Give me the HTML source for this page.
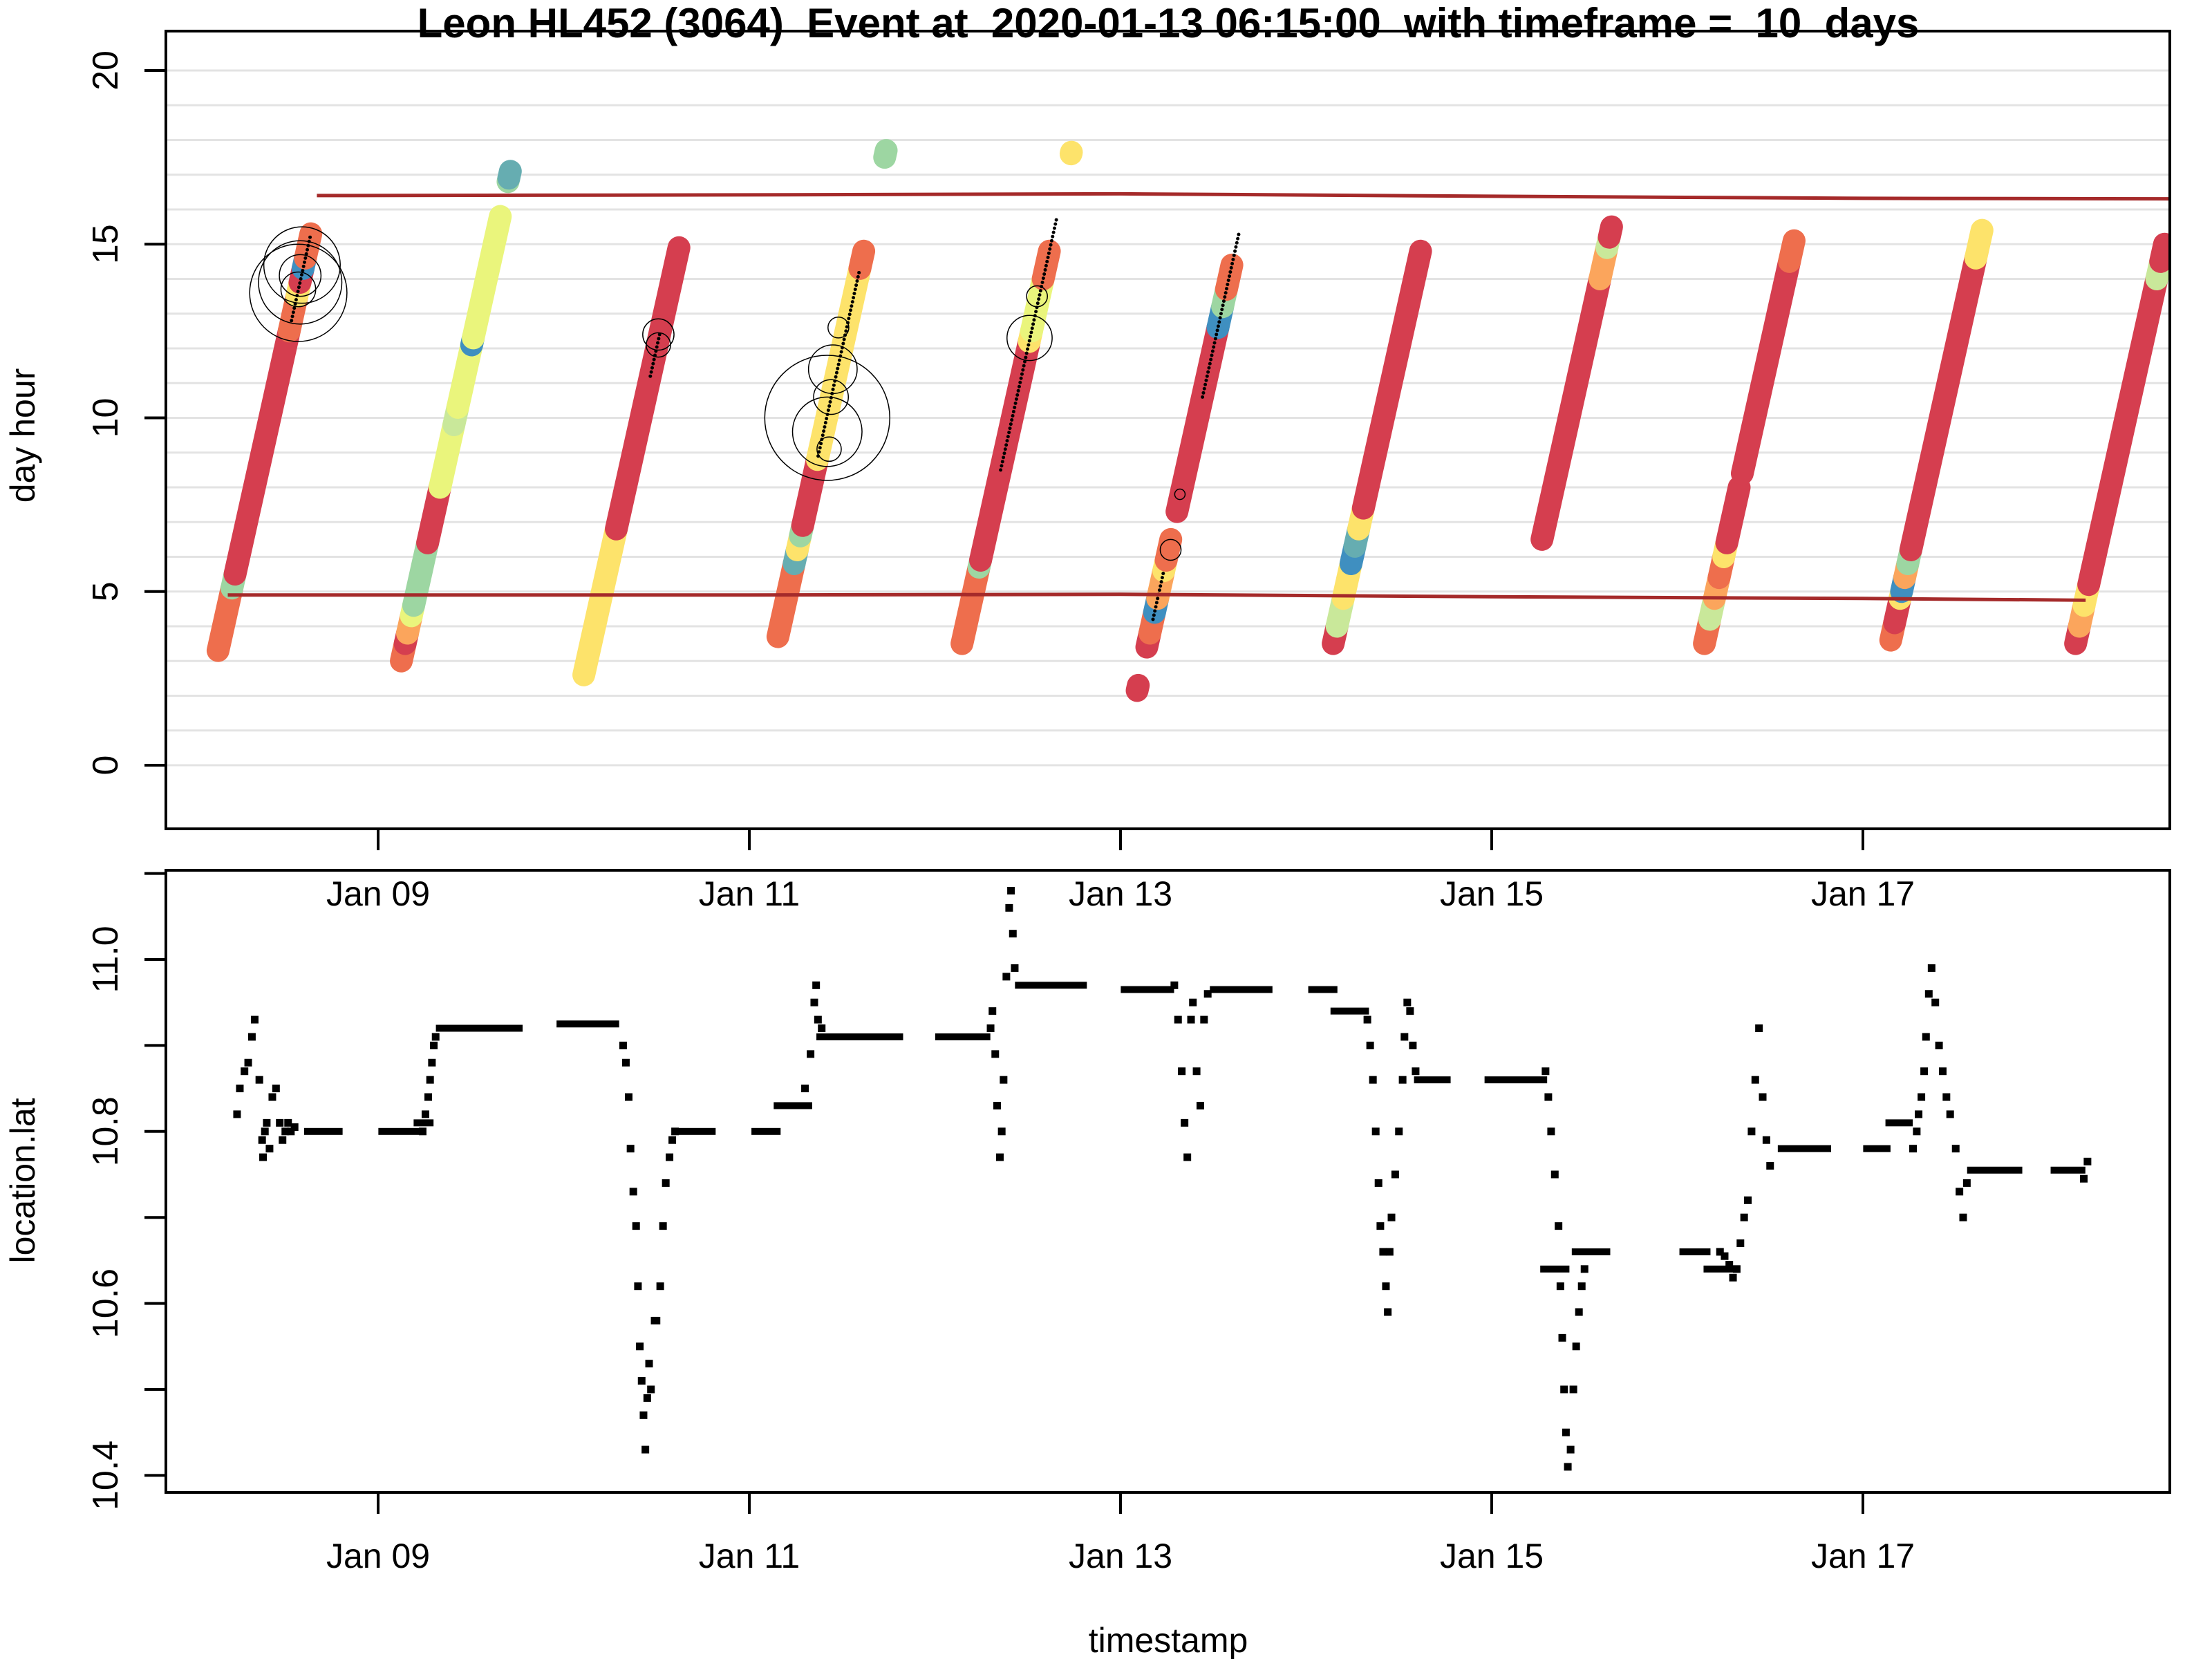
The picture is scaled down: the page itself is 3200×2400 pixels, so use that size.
<!DOCTYPE html>
<html><head><meta charset="utf-8"><style>
html,body{margin:0;padding:0;background:#fff;}
svg{display:block;}
text{font-family:"Liberation Sans",sans-serif;fill:#000;}
</style></head><body>
<svg id="chart" width="3200" height="2400" viewBox="0 0 3200 2400" xmlns="http://www.w3.org/2000/svg">
<rect width="3200" height="2400" fill="#fff"/>
<text x="1690" y="54" text-anchor="middle" font-size="60" font-weight="bold" style="white-space:pre">Leon HL452 (3064)  Event at  2020-01-13 06:15:00  with timeframe =  10  days</text>
<g id="topPanel"></g>
<g id="botPanel"></g>
<text transform="translate(50,630) rotate(-90)" text-anchor="middle" font-size="50">day hour</text>
<text transform="translate(50,1708) rotate(-90)" text-anchor="middle" font-size="50">location.lat</text>
<text x="1690" y="2390" text-anchor="middle" font-size="50">timestamp</text>
</svg>
<script>
// ---- data (t = days since Jan 09 00:00) ----
const xTickDays = [0, 2, 4, 6, 8];
const xTickLabels = ["Jan 09", "Jan 11", "Jan 13", "Jan 15", "Jan 17"];
const hourTicks = [0, 5, 10, 15, 20];
const latTicks = [10.4, 10.5, 10.6, 10.7, 10.8, 10.9, 11.0, 11.1];
const latLabels = ["10.4", "", "10.6", "", "10.8", "", "11.0", ""];
// day bars: [dayOffset, startHour, endHour, colorKey]
const barSegments = [
 [-1,3.3,5.1,"o"],[-1,5.1,5.5,"g"],[-1,5.5,12.5,"r"],[-1,12.5,13.5,"o"],[-1,13.5,13.9,"y"],[-1,13.9,14.3,"r"],[-1,14.3,14.6,"b"],[-1,14.6,15.3,"o"],
 [0,3.0,3.5,"o"],[0,3.5,3.8,"r"],[0,3.8,4.3,"lo"],[0,4.3,4.6,"l"],[0,4.6,6.4,"g"],[0,6.4,8.0,"r"],[0,8.0,9.8,"l"],[0,9.8,10.3,"lg"],[0,10.3,12.1,"l"],[0,12.1,12.3,"b"],[0,12.3,15.8,"l"],[0,16.8,16.9,"g"],[0,16.9,17.1,"t"],
 [1,2.6,6.8,"y"],[1,6.8,14.9,"r"],
 [2,3.7,5.8,"o"],[2,5.8,6.2,"t"],[2,6.2,6.6,"y"],[2,6.6,6.9,"g"],[2,6.9,8.8,"r"],[2,8.8,14.3,"y"],[2,14.3,14.8,"o"],[2,17.5,17.7,"g"],
 [3,3.5,5.7,"o"],[3,5.7,5.9,"g"],[3,5.9,12.2,"r"],[3,12.2,12.5,"y"],[3,12.5,14.0,"l"],[3,14.0,14.8,"o"],[3,17.6,17.65,"y"],
 [4,2.15,2.3,"r"],[4,3.4,3.8,"r"],[4,3.8,4.4,"o"],[4,4.4,4.8,"b"],[4,4.8,5.6,"lo"],[4,5.6,5.9,"y"],[4,5.9,6.5,"o"],[4,7.3,12.6,"r"],[4,12.6,13.2,"b"],[4,13.2,13.7,"g"],[4,13.7,14.4,"o"],
 [5,3.5,4.0,"r"],[5,4.0,4.8,"lg"],[5,4.8,5.8,"y"],[5,5.8,6.3,"b"],[5,6.3,6.8,"t"],[5,6.8,7.4,"y"],[5,7.4,14.8,"r"],
 [6,6.5,14.0,"r"],[6,14.0,14.9,"lo"],[6,14.9,15.2,"lg"],[6,15.2,15.5,"r"],
 [7,3.5,4.2,"o"],[7,4.2,4.8,"lg"],[7,4.8,5.4,"lo"],[7,5.4,6.0,"o"],[7,6.0,6.4,"y"],[7,6.4,8.0,"r"],[7,8.4,14.5,"r"],[7,14.5,15.1,"o"],
 [8,3.6,4.1,"o"],[8,4.1,4.8,"r"],[8,4.8,5.0,"y"],[8,5.0,5.4,"b"],[8,5.4,5.8,"lo"],[8,5.8,6.2,"g"],[8,6.2,14.6,"r"],[8,14.6,15.4,"y"],
 [9,3.5,4.0,"r"],[9,4.0,4.6,"lo"],[9,4.6,5.2,"y"],[9,5.2,14.0,"r"],[9,14.0,14.5,"lg"],[9,14.5,15.0,"r"]
];
// event circles: [t, hour, radius(hours)]
const eventCircles = [
 [-0.43,13.6,1.4],[-0.42,13.9,1.2],[-0.41,14.4,1.1],[-0.42,14.1,0.6],[-0.43,13.7,0.5],
 [1.51,12.4,0.45],[1.51,12.1,0.35],
 [2.42,10.0,1.8],[2.42,9.6,1.0],[2.45,11.4,0.7],[2.44,10.6,0.5],[2.48,12.6,0.3],[2.43,9.1,0.35],
 [3.51,12.3,0.65],[3.55,13.5,0.3],
 [4.27,6.2,0.3],[4.32,7.8,0.15]
];
const upperLineT = [-0.33, 2, 4, 6, 8, 10.2];
const upperLineH = [16.4, 16.42, 16.45, 16.38, 16.32, 16.3];
const lowerLineT = [-0.81, 2, 4, 6, 8, 9.2];
const lowerLineH = [4.9, 4.9, 4.92, 4.85, 4.8, 4.75];
// lat flat runs
const flatT0 = [-0.38, 0.02, 0.21, 0.33, 0.98, 1.63, 2.03, 2.15, 2.38, 3.02, 3.45, 4.02, 4.5, 5.03, 5.15, 5.6, 5.98, 6.28, 6.45, 7.03, 7.16, 7.56, 8.02, 8.14, 8.58, 9.03];
const flatT1 = [-0.21, 0.21, 0.28, 0.76, 1.28, 1.80, 2.15, 2.32, 2.81, 3.28, 3.80, 4.27, 4.80, 5.15, 5.32, 5.76, 6.28, 6.40, 6.62, 7.16, 7.30, 7.81, 8.13, 8.25, 8.84, 9.18];
const flatLat= [10.80, 10.80, 10.81, 10.92, 10.925, 10.80, 10.80, 10.83, 10.91, 10.91, 10.97, 10.965, 10.965, 10.965, 10.94, 10.86, 10.86, 10.64, 10.66, 10.66, 10.64, 10.78, 10.78, 10.81, 10.755, 10.755];
// lat individual points
const ptT = [-0.76,-0.745,-0.72,-0.70,-0.68,-0.665,-0.64,-0.625,-0.62,-0.61,-0.60,-0.585,-0.57,-0.55,-0.53,-0.515,-0.50,-0.485,-0.47,-0.45,
 0.24,0.255,0.27,0.28,0.29,0.30,0.31,
 1.32,1.335,1.35,1.36,1.375,1.39,1.40,1.41,1.42,1.43,1.44,1.45,1.46,1.47,1.49,1.50,1.52,1.535,1.55,1.57,1.585,1.60,
 2.30,2.33,2.35,2.36,2.37,2.39,
 3.30,3.31,3.325,3.335,3.35,3.36,3.37,3.385,3.40,3.41,3.42,3.43,
 4.29,4.31,4.33,4.345,4.36,4.38,4.39,4.41,4.43,4.45,4.47,
 5.33,5.345,5.36,5.375,5.39,5.40,5.415,5.43,5.44,5.45,5.46,5.48,5.50,5.52,5.53,5.545,5.56,5.575,5.59,
 6.29,6.305,6.32,6.34,6.36,6.37,6.38,6.39,6.40,6.41,6.425,6.44,6.455,6.47,6.485,6.50,
 7.23,7.255,7.28,7.30,7.32,7.34,7.36,7.38,7.40,7.42,7.44,7.46,7.48,7.50,
 8.27,8.29,8.30,8.315,8.33,8.34,8.355,8.37,8.39,8.41,8.43,8.45,8.47,8.50,8.52,8.54,8.56,
 9.19,9.21];
const ptLat = [10.82,10.85,10.87,10.88,10.91,10.93,10.86,10.79,10.77,10.80,10.81,10.78,10.84,10.85,10.81,10.79,10.80,10.81,10.80,10.805,
 10.80,10.82,10.84,10.86,10.88,10.90,10.91,
 10.90,10.88,10.84,10.78,10.73,10.69,10.62,10.55,10.51,10.47,10.43,10.49,10.53,10.50,10.58,10.58,10.62,10.69,10.74,10.77,10.79,10.80,
 10.85,10.89,10.95,10.97,10.93,10.92,
 10.92,10.94,10.89,10.83,10.77,10.80,10.86,10.98,11.06,11.08,11.03,10.99,
 10.97,10.93,10.87,10.81,10.77,10.93,10.95,10.87,10.83,10.93,10.96,
 10.93,10.90,10.86,10.80,10.74,10.69,10.66,10.62,10.59,10.66,10.70,10.75,10.80,10.86,10.91,10.95,10.94,10.90,10.87,
 10.87,10.84,10.80,10.75,10.69,10.62,10.56,10.50,10.45,10.41,10.43,10.50,10.55,10.59,10.62,10.64,
 10.66,10.655,10.645,10.63,10.64,10.67,10.70,10.72,10.80,10.86,10.92,10.84,10.79,10.76,
 10.78,10.80,10.82,10.84,10.87,10.91,10.96,10.99,10.95,10.90,10.87,10.84,10.82,10.78,10.73,10.70,10.74,
 10.745,10.765];
// ---- scales ----
const X = t => 547 + 268.5 * t;
const YH = h => 1107 - 50.25 * h;
const YL = v => 1388 - 1244 * (v - 11.0);
const palette = {r:"#d53e4f",o:"#ee6e4d",lo:"#fba55c",y:"#fde36b",l:"#eaf57c",lg:"#c9e89a",g:"#9dd6a2",t:"#66adb1",b:"#3f8fc0"};
const SVGNS = "http://www.w3.org/2000/svg";
function mk(parent, tag, attrs){const e=document.createElementNS(SVGNS,tag);for(const k in attrs)e.setAttribute(k,attrs[k]);parent.appendChild(e);return e;}
const topG = document.getElementById('topPanel'), botG = document.getElementById('botPanel');
const TOPY = 45;
const defs = mk(document.getElementById('chart'),'defs',{});
const cp1 = mk(defs,'clipPath',{id:'cpTop'}); mk(cp1,'rect',{x:240,y:TOPY,width:2899,height:1199-TOPY});
const cp2 = mk(defs,'clipPath',{id:'cpBot'}); mk(cp2,'rect',{x:240,y:1259,width:2899,height:900});
for (let h = 0; h <= 20; h++) {
  const g = mk(topG,'line',{x1:240,x2:3139,y1:YH(h),y2:YH(h),stroke:"#e3e3e3","stroke-width":3});
  
  
}
const plotTop = mk(topG,'g',{'clip-path':'url(#cpTop)'});
barSegments.forEach(s => {
  const [d,h0,h1,c] = s;
  const l = mk(plotTop,'line',{x1:X(d+h0/24),y1:YH(h0),x2:X(d+h1/24),y2:YH(h1),stroke:palette[c],"stroke-width":33,"stroke-linecap":"round"});
  
  
});
[[-1,12.8,15.3],[1,11.2,12.5],[2,8.9,14.2],[3,8.5,15.8],[4,4.2,5.6],[4,10.6,15.3]].forEach(r=>{
  for(let h=r[1]; h<=r[2]; h+=0.12){
    const dd = mk(plotTop,'circle',{cx:X(r[0]+h/24),cy:YH(h),r:2.5,fill:"#000"});
    
    
  }
});
eventCircles.forEach(c=>{
  const e = mk(plotTop,'circle',{cx:X(c[0]),cy:YH(c[1]),r:c[2]*50.25,fill:"none",stroke:"#000","stroke-width":1.5});
  
  
});
function polyline(parent, ts, hs, name){
  const p = mk(parent,'polyline',{points:ts.map((t,i)=>X(t)+','+YH(hs[i])).join(' '),fill:"none",stroke:"#a52a2a","stroke-width":5});
  
  
}
polyline(plotTop, upperLineT, upperLineH, 'upper-reference-line');
polyline(plotTop, lowerLineT, lowerLineH, 'lower-reference-line');
const f1 = mk(topG,'rect',{x:240,y:TOPY,width:2899,height:1199-TOPY,fill:"none",stroke:"#000","stroke-width":4});


hourTicks.forEach(h=>{
  const t = mk(topG,'line',{x1:209,x2:240,y1:YH(h),y2:YH(h),stroke:"#000","stroke-width":4});
  
  
  const lb = mk(topG,'text',{transform:`translate(170,${YH(h)}) rotate(-90)`,"text-anchor":"middle","font-size":52});
  lb.textContent = String(h);
  
  
});
xTickDays.forEach((d,i)=>{
  const t = mk(topG,'line',{x1:X(d),x2:X(d),y1:1199,y2:1230,stroke:"#000","stroke-width":4});
  
  
  const lb = mk(topG,'text',{x:X(d),y:1310,"text-anchor":"middle","font-size":50});
  lb.textContent = xTickLabels[i];
  
  
});
const plotBot = mk(botG,'g',{'clip-path':'url(#cpBot)'});
flatT0.forEach((t0,i)=>{
  const r = mk(plotBot,'rect',{x:X(t0)-5,y:YL(flatLat[i])-5,width:X(flatT1[i])-X(t0)+10,height:10,fill:"#000"});
  
  
});
ptT.forEach((t,i)=>{
  const r = mk(plotBot,'rect',{x:X(t)-5.5,y:YL(ptLat[i])-5.5,width:11,height:11,fill:"#000"});
  
  
});
const f2 = mk(botG,'rect',{x:240,y:1259,width:2899,height:900,fill:"none",stroke:"#000","stroke-width":4});


latTicks.forEach((v,i)=>{
  const t = mk(botG,'line',{x1:209,x2:240,y1:YL(v),y2:YL(v),stroke:"#000","stroke-width":4});
  
  
  if (latLabels[i]) {
    const lb = mk(botG,'text',{transform:`translate(170,${YL(v)}) rotate(-90)`,"text-anchor":"middle","font-size":52});
    lb.textContent = latLabels[i];
    
    
  }
});
xTickDays.forEach((d,i)=>{
  const t = mk(botG,'line',{x1:X(d),x2:X(d),y1:2159,y2:2190,stroke:"#000","stroke-width":4});
  
  
  const lb = mk(botG,'text',{x:X(d),y:2268,"text-anchor":"middle","font-size":50});
  lb.textContent = xTickLabels[i];
  
  
});
</script>
</body></html>
